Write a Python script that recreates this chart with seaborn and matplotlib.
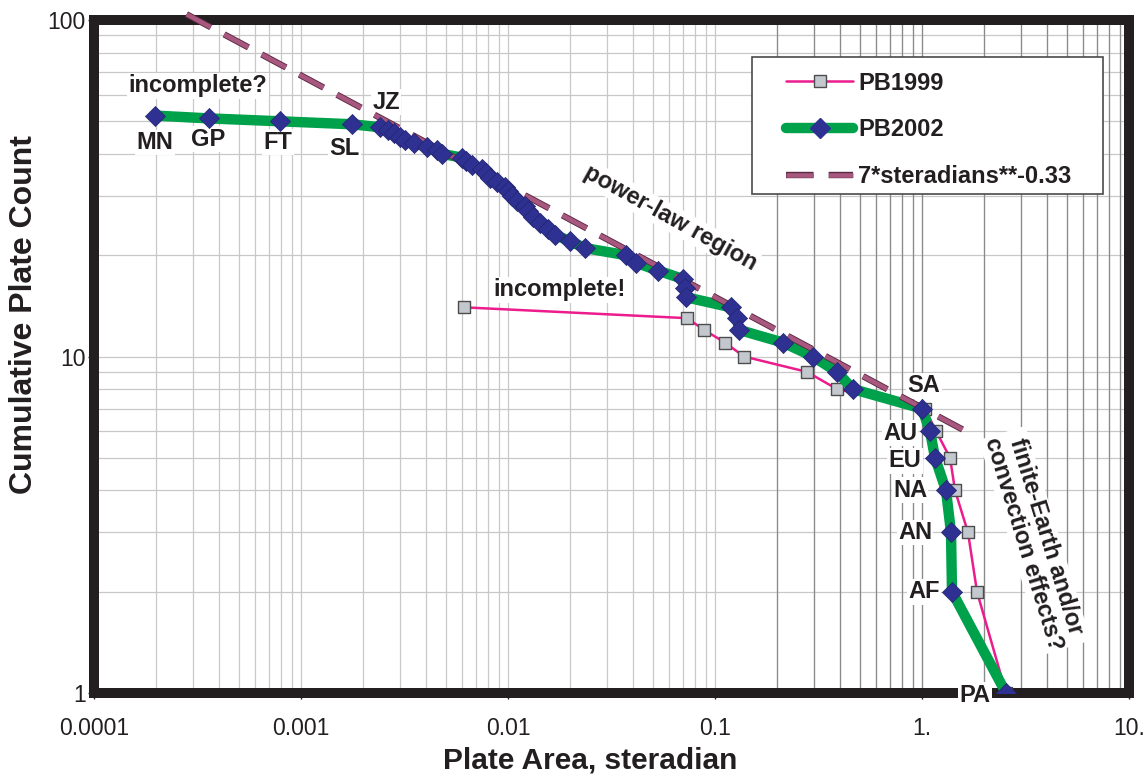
import numpy as np
import pandas as pd
import matplotlib
matplotlib.use("Agg")
import matplotlib.pyplot as plt
import matplotlib.patheffects as pe
from matplotlib.lines import Line2D
from matplotlib.patches import Rectangle
from matplotlib.ticker import FixedLocator, FixedFormatter, LogLocator, NullFormatter
import seaborn as sns

# PB2002: plate area (steradian) for cumulative count 52 -> 1
pb2002_area = [1.97e-4, 3.59e-4, 7.92e-4, 1.76e-3, 2.41e-3, 2.63e-3, 2.81e-3, 3.01e-3,
               3.18e-3, 3.52e-3, 4.06e-3, 4.54e-3, 4.80e-3, 6.00e-3, 6.27e-3, 6.70e-3,
               7.49e-3, 7.83e-3, 8.19e-3, 8.85e-3, 9.67e-3, 0.0100, 0.01045, 0.01105,
               0.01208, 0.01249, 0.0132, 0.01427, 0.0156, 0.01687, 0.01994, 0.02355,
               0.03715, 0.04154, 0.05304, 0.07004, 0.07162, 0.07242, 0.1195, 0.1277,
               0.1306, 0.2131, 0.2974, 0.3886, 0.4642, 1.000, 1.093, 1.156, 1.306,
               1.381, 1.396, 2.546]
pb2002_count = list(range(52, 0, -1))

# PB1999: count 14 -> 1
pb1999_area = [6.13e-3, 0.0732, 0.0885, 0.1117, 0.1380, 0.2782, 0.3886, 1.034,
               1.169, 1.366, 1.444, 1.668, 1.844, 2.546]
pb1999_count = list(range(14, 0, -1))

# power law 7*steradians**-0.33, end points
fit_area = [2.8e-4, 1.71]
fit_count = [104.0, 5.9]

plate_names = ["MN", "GP", "FT", "SL", "JZ", "SA", "AU", "EU", "NA", "AN", "AF", "PA"]
plate_counts = [52, 51, 50, 49, 48, 7, 6, 5, 4, 3, 2, 1]

x_ticks = [1e-4, 1e-3, 1e-2, 1e-1, 1, 10]
x_ticklabels = ["0.0001", "0.001", "0.01", "0.1", "1.", "10."]
y_ticks = [1, 10, 100]
y_ticklabels = ["1", "10", "100"]

# label offsets in pixels from the marker
label_offsets = {"MN": (0, -27), "GP": (-1, -21), "FT": (-2, -21), "SL": (-7, -24),
                 "JZ": (6, 25), "SA": (2, 23), "AU": (-30, -2), "EU": (-30, -3),
                 "NA": (-36, 0), "AN": (-36, 0), "AF": (-28, 0), "PA": (-31, -2)}

pink = "#ec1c8c"
green = "#00a14b"
navy = "#2e3192"
mauve = "#a8577f"
mauve_edge = "#5a2943"
black = "#231f20"

sns.set_style("whitegrid")
plt.rcParams["font.family"] = ["Liberation Sans", "DejaVu Sans"]

fig = plt.figure(figsize=(11.47, 7.74), dpi=100)
ax = fig.add_axes([94 / 1147, 81 / 774, 1035 / 1147, 673 / 774])
ax.set_xscale("log")
ax.set_yscale("log")

sns.lineplot(x=pb1999_area, y=pb1999_count, estimator=None, sort=False,
             color=pink, lw=1.8, zorder=2, ax=ax)
sns.scatterplot(x=pb1999_area, y=pb1999_count, marker="s", s=66, color="#c3c7ce",
                edgecolor="#4d4d4d", linewidth=1.0, zorder=3, ax=ax)

sns.lineplot(x=pb2002_area, y=pb2002_count, estimator=None, sort=False,
             color=green, lw=7.5, zorder=4, ax=ax)

dash = (6.0, 3.3)
fit_line = sns.lineplot(x=fit_area, y=fit_count, estimator=None, sort=False,
                        color=mauve, lw=3.3, zorder=5, ax=ax).lines[-1]
fit_line.set_dashes(dash)
fit_line.set_clip_on(False)
fit_line.set_dash_capstyle("butt")
fit_line.set_path_effects([pe.Stroke(linewidth=4.6, foreground=mauve_edge), pe.Normal()])

sns.scatterplot(x=pb2002_area, y=pb2002_count, marker="D", s=105, color=navy,
                edgecolor="#23256e", linewidth=0.5, zorder=6, ax=ax)

ax.set_xlim(1e-4, 10)
ax.set_ylim(1, 100)

# ticks and grid
ax.xaxis.set_major_locator(FixedLocator(x_ticks))
ax.xaxis.set_major_formatter(FixedFormatter(x_ticklabels))
ax.yaxis.set_major_locator(FixedLocator(y_ticks))
ax.yaxis.set_major_formatter(FixedFormatter(y_ticklabels))
ax.xaxis.set_minor_locator(LogLocator(base=10, subs=np.arange(2, 10)))
ax.yaxis.set_minor_locator(LogLocator(base=10, subs=np.arange(2, 10)))
ax.xaxis.set_minor_formatter(NullFormatter())
ax.yaxis.set_minor_formatter(NullFormatter())
ax.grid(True, which="both", color="#c8c8c8", lw=0.9, zorder=0)
for v in list(np.arange(2, 10) * 0.1) + [1.0] + list(np.arange(2, 10)):
    ax.axvline(v, color="#8a8a8a", lw=0.9, zorder=0.6)
ax.set_axisbelow(True)

for s in ax.spines.values():
    s.set_linewidth(7.2)
    s.set_color(black)
    s.set_visible(True)

ax.tick_params(axis="both", which="major", length=4, width=1, color=black,
               direction="out", bottom=True, left=True, labelsize=16.5, labelcolor=black)
ax.tick_params(axis="x", which="major", pad=13)
ax.tick_params(axis="y", which="major", pad=2)
ax.tick_params(which="minor", length=0)

ax.set_xlabel("Plate Area, steradian", fontsize=21.5, fontweight="bold", color=black,
              va="center", ha="center")
ax.set_ylabel("Cumulative Plate Count", fontsize=23, fontweight="bold", color=black,
              va="center", ha="center")
ax.xaxis.set_label_coords(0.479, -0.0996)
ax.yaxis.set_label_coords(-0.0676, 0.562)

box = dict(facecolor="white", edgecolor="none", pad=1.0)
lbl = dict(fontsize=17, fontweight="bold", color=black, ha="center", va="center")

for name, cnt in zip(plate_names, plate_counts):
    i = pb2002_count.index(cnt)
    ax.annotate(name, (pb2002_area[i], pb2002_count[i]), xytext=label_offsets[name],
                textcoords="offset pixels", bbox=box, zorder=3, **lbl)

ax.text(0.1005, 0.902, "incomplete?", transform=ax.transAxes, bbox=box, zorder=3, **lbl)
ax.text(0.450, 0.599, "incomplete!", transform=ax.transAxes, bbox=box, zorder=3, **lbl)
ax.text(0.5565, 0.706, "power-law region", transform=ax.transAxes, rotation=-29,
        rotation_mode="anchor", bbox=box, zorder=3, **lbl)
ax.text(0.909, 0.227, "finite-Earth and/or\nconvection effects?", transform=ax.transAxes,
        rotation=-73, rotation_mode="anchor", linespacing=1.0, bbox=box, zorder=3, **lbl)

# legend
ax.add_patch(Rectangle((0.636, 0.741), 0.339, 0.204, transform=ax.transAxes,
                       facecolor="white", edgecolor="#4a4a4a", lw=1.2, zorder=9))
fit_handle = Line2D([], [], color=mauve, lw=3.3, dashes=dash, dash_capstyle="butt",
                    path_effects=[pe.Stroke(linewidth=4.6, foreground=mauve_edge), pe.Normal()])
handles = [
    Line2D([], [], color=pink, lw=1.8, marker="s", ms=8.1, mfc="#c3c7ce", mec="#4d4d4d", mew=1.0),
    Line2D([], [], color=green, lw=7.5, marker="D", ms=10, mfc=navy, mec=navy),
    fit_handle,
]
leg = ax.legend(handles, ["PB1999", "PB2002", "7*steradians**-0.33"], loc="center left",
                bbox_to_anchor=(0.6686, 0.837), frameon=False, borderpad=0, borderaxespad=0,
                handlelength=2.85, handletextpad=0.2, labelspacing=1.0,
                prop={"size": 17, "weight": "bold"})
leg.set_zorder(10)
for t in leg.get_texts():
    t.set_color(black)

fig.savefig("out.png", dpi=100, facecolor="white")
